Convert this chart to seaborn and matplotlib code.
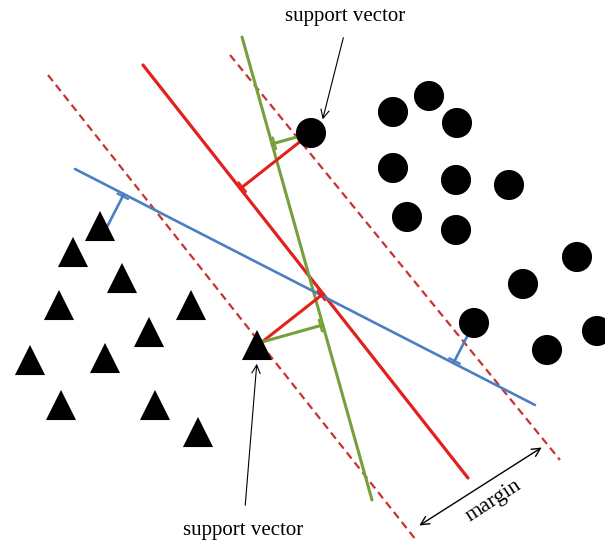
import seaborn as sns
import matplotlib.pyplot as plt
import pandas as pd
import numpy as np

sns.set_style("white")
plt.rcParams["font.family"] = ["Liberation Serif", "DejaVu Serif"]
plt.rcParams["text.color"] = "black"

# class A (triangles) and class B (circles), in picture coordinates (y down)
tri_x = [100, 73, 122, 59, 191, 149, 30, 105, 61, 155, 198, 257]
tri_y = [226, 252, 278, 305, 305, 332, 360, 358, 405, 405, 432, 345]
circ_x = [311, 393, 429, 457, 393, 456, 509, 407, 456, 577, 523, 474, 547, 597]
circ_y = [133, 112, 96, 123, 168, 180, 185, 217, 230, 257, 284, 323, 350, 331]

# separating lines: (x0, y0, x1, y1)
red_line = (143, 65, 468, 478)
red_margin_left = (48, 75, 416, 540)
red_margin_right = (230, 55, 560, 460)
green_line = (242, 37, 372, 500)
blue_line = (75, 169, 535, 405)

# perpendicular distances: start point and the line they drop onto
perps = [
    ((311, 133), red_line, "#e3201b"),
    ((311, 133), green_line, "#76a03c"),
    ((262, 342), red_line, "#e3201b"),
    ((262, 342), green_line, "#76a03c"),
    ((107, 227), blue_line, "#4a80c2"),
    ((474, 323), blue_line, "#4a80c2"),
]

RED = "#e3201b"
GREEN = "#76a03c"
BLUE = "#4a80c2"
DASH = "#c8332f"


def foot(p, line):
    a = np.array(line[:2], float)
    b = np.array(line[2:], float)
    d = b - a
    t = np.dot(np.array(p) - a, d) / np.dot(d, d)
    return a + t * d, d / np.linalg.norm(d)


fig = plt.figure(figsize=(6.05, 5.54), dpi=100)
ax = fig.add_axes([0, 0, 1, 1])
ax.set_xlim(0, 605)
ax.set_ylim(554, 0)
ax.axis("off")

ax.plot(red_margin_left[::2], red_margin_left[1::2], color=DASH, lw=1.6, ls=(0, (3.5, 2.2)))
ax.plot(red_margin_right[::2], red_margin_right[1::2], color=DASH, lw=1.6, ls=(0, (3.5, 2.2)))
ax.plot(red_line[::2], red_line[1::2], color=RED, lw=2.3)
ax.plot(green_line[::2], green_line[1::2], color=GREEN, lw=2.2)
ax.plot(blue_line[::2], blue_line[1::2], color=BLUE, lw=1.9)

for p, line, c in perps:
    f, u = foot(p, line)
    ax.plot([p[0], f[0]], [p[1], f[1]], color=c, lw=2.2 if c != BLUE else 1.9)
    # small tick marking the foot of the perpendicular
    n = np.array(p) - f
    n = n / np.linalg.norm(n) * 2.5
    t0 = f + n - u * 6
    t1 = f + n + u * 6
    ax.plot([t0[0], t1[0]], [t0[1], t1[1]], color=c, lw=1.6)

pts = pd.DataFrame({
    "x": tri_x + circ_x,
    "y": tri_y + circ_y,
    "cls": ["tri"] * len(tri_x) + ["circ"] * len(circ_x),
})
sns.scatterplot(data=pts, x="x", y="y", style="cls", markers={"tri": "^", "circ": "o"},
                color="black", s=470, linewidth=0, legend=False, ax=ax, zorder=5)

arrow = dict(arrowstyle="->", color="black", lw=0.8, mutation_scale=15)
ax.annotate("", xy=(322, 122), xytext=(344, 35), arrowprops=arrow)
ax.text(345, 16, "support vector", ha="center", va="center", fontsize=15)
ax.annotate("", xy=(257, 361), xytext=(245, 508), arrowprops=arrow)
ax.text(243, 531, "support vector", ha="center", va="center", fontsize=15)

ax.annotate("", xy=(544, 446), xytext=(417, 527),
            arrowprops=dict(arrowstyle="<->", color="black", lw=1.0, mutation_scale=15))
ax.text(494, 501, "margin", ha="center", va="center", fontsize=16, rotation=33)

plt.savefig("out.png", dpi=100)
plt.close()
